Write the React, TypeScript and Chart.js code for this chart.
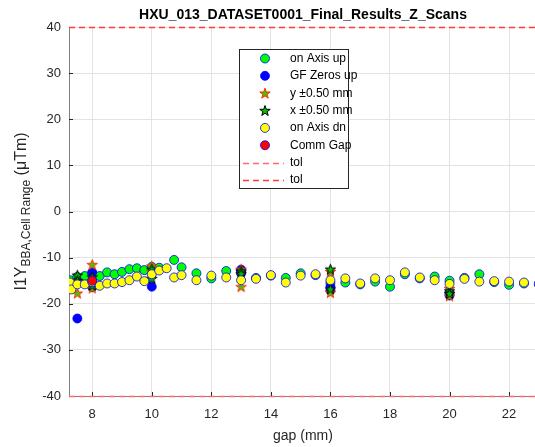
import React, { useEffect, useRef } from 'react';
import { Chart, registerables } from 'chart.js';
Chart.register(...registerables);

const titleText = 'HXU_013_DATASET0001_Final_Results_Z_Scans';
const xTitle = 'gap (mm)';
const yTitleMain = 'I1Y';
const yTitleSub = 'BBA,Cell Range';
const yTitleUnit = ' (\u03bcTm)';
const xTickValues = [8, 10, 12, 14, 16, 18, 20, 22];
const yTickValues = [-40, -30, -20, -10, 0, 10, 20, 30, 40];
const xMin = 7.22;
const xMax = 22.87;
const yMin = -40;
const yMax = 40;
const tolLow = -40;
const tolHigh = 40;

// on Axis up
const upGap = [7.25, 7.5, 7.75, 8, 8.25, 8.5, 8.75, 9, 9.25, 9.5, 9.75, 10, 10.25, 10.75, 11, 11.5, 12, 12.5, 13, 13.5, 14, 14.5, 15, 15.5, 16, 16.5, 17, 17.5, 18, 18.5, 19, 19.5, 20, 20.5, 21, 21.5, 22, 22.5, 23];
const upVal = [-14.9, -14.2, -14.0, -13.4, -14.0, -13.2, -13.6, -13.1, -12.5, -12.3, -12.7, -12.0, -12.2, -10.5, -12.1, -13.4, -14.5, -12.9, -13.0, -14.4, -13.9, -14.4, -13.4, -13.8, -15.5, -15.4, -15.8, -15.2, -16.3, -13.6, -14.5, -14.1, -15.0, -14.4, -13.6, -15.3, -15.9, -15.6, -15.8];
// GF Zeros up
const gfGap = [7.5, 8, 8, 10, 13, 13, 16, 16, 20, 20];
const gfVal = [-23.2, -13.2, -16.4, -16.3, -12.6, -13.4, -16.3, -17.1, -17.6, -18.2];
// y ±0.50 mm
const yStarGap = [7.5, 8, 8, 10, 10, 13, 13, 16, 16, 20, 20];
const yStarVal = [-17.7, -11.5, -16.6, -11.8, -13.0, -12.5, -16.3, -17.6, -13.0, -16.7, -18.3];
// x ±0.50 mm
const xStarGap = [7.5, 7.5, 8, 8, 10, 10, 13, 13, 16, 16, 20, 20];
const xStarVal = [-13.8, -15.0, -14.2, -16.0, -14.5, -12.5, -12.9, -13.5, -12.5, -16.8, -17.2, -17.8];
// on Axis dn
const dnGap = [7.25, 7.3, 7.5, 7.75, 8, 8.25, 8.5, 8.75, 9, 9.25, 9.5, 9.75, 10, 10.25, 10.5, 10.75, 11, 11.5, 12, 12.5, 13, 13.5, 14, 14.5, 15, 15.5, 16, 16.5, 17, 17.5, 18, 18.5, 19, 19.5, 20, 20.5, 21, 21.5, 22, 22.5, 23];
const dnVal = [-15.4, -16.9, -15.8, -15.8, -15.3, -16.1, -15.6, -15.6, -15.3, -14.9, -14.1, -15.1, -13.6, -12.8, -12.3, -14.3, -13.8, -14.9, -13.9, -14.3, -14.9, -14.6, -13.8, -15.4, -13.9, -13.6, -14.9, -14.5, -15.6, -14.5, -14.9, -13.2, -14.3, -14.9, -15.7, -14.6, -15.2, -15.1, -15.2, -15.4, -15.6];
// Comm Gap
const commGap = [8];
const commVal = [-15.0];

const FONT = '"Liberation Sans", Arial, Helvetica, sans-serif';

function drawStarPath(ctx: CanvasRenderingContext2D, cx: number, cy: number, r: number) {
  const ri = r * 0.4;
  ctx.beginPath();
  for (let i = 0; i < 10; i++) {
    const rad = i % 2 === 0 ? r : ri;
    const a = -Math.PI / 2 + (i * Math.PI) / 5;
    const px = cx + rad * Math.cos(a);
    const py = cy + rad * Math.sin(a);
    if (i === 0) ctx.moveTo(px, py);
    else ctx.lineTo(px, py);
  }
  ctx.closePath();
}

function makeStar(fill: string, stroke: string, r: number) {
  const c = document.createElement('canvas');
  const s = Math.ceil(2 * r + 4);
  c.width = s;
  c.height = s;
  const ctx = c.getContext('2d')!;
  drawStarPath(ctx, s / 2, s / 2 + 0.5, r);
  ctx.fillStyle = fill;
  ctx.fill();
  ctx.strokeStyle = stroke;
  ctx.lineWidth = 1;
  ctx.stroke();
  return c;
}

const toPts = (g: number[], v: number[]) => g.map((x, i) => ({ x, y: v[i] }));

export default function App() {
  const ref = useRef<HTMLCanvasElement>(null);
  useEffect(() => {
    const canvas = ref.current;
    if (!canvas) return;
    const yStarImg = makeStar('#4fc000', '#ff2a00', 5.5);
    const xStarImg = makeStar('#00c000', '#000000', 5.5);
    const tolLowColor = '#ff6a6a';
    const tolHighColor = '#ff3a3a';

    const legendItems = [
      { label: 'on Axis up', kind: 'circle', fill: '#00ff00', stroke: '#0000ff' },
      { label: 'GF Zeros up', kind: 'circle', fill: '#0000ff', stroke: '#0000ff' },
      { label: 'y \u00b10.50 mm', kind: 'star', fill: '#4fc000', stroke: '#ff2a00' },
      { label: 'x \u00b10.50 mm', kind: 'star', fill: '#00c000', stroke: '#000000' },
      { label: 'on Axis dn', kind: 'circle', fill: '#ffff00', stroke: '#0000ff' },
      { label: 'Comm Gap', kind: 'circle', fill: '#ff0000', stroke: '#0000ff' },
      { label: 'tol', kind: 'line', fill: '', stroke: tolLowColor },
      { label: 'tol', kind: 'line', fill: '', stroke: tolHighColor },
    ];

    const overlay = {
      id: 'overlay',
      afterDraw(chart: any) {
        const ctx: CanvasRenderingContext2D = chart.ctx;
        const { left, right, bottom } = chart.chartArea;
        const xs = chart.scales.x;
        const ys = chart.scales.y;
        ctx.save();
        // inner tick marks
        ctx.strokeStyle = '#262626';
        ctx.lineWidth = 1;
        xTickValues.forEach((v) => {
          const px = Math.round(xs.getPixelForValue(v)) + 0.5;
          ctx.beginPath();
          ctx.moveTo(px, bottom);
          ctx.lineTo(px, bottom - 4);
          ctx.stroke();
        });
        yTickValues.forEach((v) => {
          const py = Math.round(ys.getPixelForValue(v)) + 0.5;
          ctx.beginPath();
          ctx.moveTo(left, py);
          ctx.lineTo(left + 4, py);
          ctx.stroke();
        });
        // tolerance lines
        ctx.save();
        ctx.lineWidth = 1.3;
        ctx.setLineDash([6, 4]);
        ctx.strokeStyle = tolLowColor;
        const pl = Math.round(ys.getPixelForValue(tolLow)) + 0.5;
        ctx.beginPath();
        ctx.moveTo(left, pl);
        ctx.lineTo(right, pl);
        ctx.stroke();
        ctx.strokeStyle = tolHighColor;
        const ph = Math.round(ys.getPixelForValue(tolHigh)) + 0.5;
        ctx.beginPath();
        ctx.moveTo(left, ph);
        ctx.lineTo(right, ph);
        ctx.stroke();
        ctx.restore();
        // title
        ctx.fillStyle = '#000000';
        ctx.font = 'bold 14px ' + FONT;
        ctx.textAlign = 'center';
        ctx.textBaseline = 'middle';
        ctx.fillText(titleText, 303, 15);
        // x title
        ctx.font = '14px ' + FONT;
        ctx.fillStyle = '#262626';
        ctx.fillText(xTitle, 303, 436);
        // y title
        ctx.save();
        ctx.translate(26, 211.5);
        ctx.rotate(-Math.PI / 2);
        ctx.textAlign = 'left';
        ctx.textBaseline = 'alphabetic';
        ctx.font = '16px ' + FONT;
        const w1 = ctx.measureText(yTitleMain).width;
        const w3 = ctx.measureText(yTitleUnit).width;
        ctx.font = '12px ' + FONT;
        const w2 = ctx.measureText(yTitleSub).width;
        const x0 = -(w1 + w2 + w3) / 2;
        ctx.font = '16px ' + FONT;
        ctx.fillText(yTitleMain, x0, 0);
        ctx.font = '12px ' + FONT;
        ctx.fillText(yTitleSub, x0 + w1, 4);
        ctx.font = '16px ' + FONT;
        ctx.fillText(yTitleUnit, x0 + w1 + w2, 0);
        ctx.restore();
        // legend
        const bx = 239.5, by = 49.5, bw = 109, bh = 139;
        ctx.fillStyle = '#ffffff';
        ctx.fillRect(bx, by, bw, bh);
        ctx.strokeStyle = '#262626';
        ctx.lineWidth = 1;
        ctx.strokeRect(bx, by, bw, bh);
        ctx.font = '12px ' + FONT;
        ctx.textAlign = 'left';
        ctx.textBaseline = 'middle';
        legendItems.forEach((it, i) => {
          const cy = 58.5 + i * 17.35;
          const mx = 265;
          if (it.kind === 'circle') {
            ctx.beginPath();
            ctx.arc(mx, cy, 4.5, 0, Math.PI * 2);
            ctx.fillStyle = it.fill;
            ctx.fill();
            ctx.strokeStyle = it.stroke;
            ctx.lineWidth = 0.8;
            ctx.stroke();
          } else if (it.kind === 'star') {
            drawStarPath(ctx, mx, cy + 0.5, 5.5);
            ctx.fillStyle = it.fill;
            ctx.fill();
            ctx.strokeStyle = it.stroke;
            ctx.lineWidth = 1;
            ctx.stroke();
          } else {
            ctx.save();
            ctx.strokeStyle = it.stroke;
            ctx.lineWidth = 1.3;
            ctx.setLineDash([6, 4]);
            ctx.beginPath();
            ctx.moveTo(243, Math.round(cy) + 0.5);
            ctx.lineTo(284, Math.round(cy) + 0.5);
            ctx.stroke();
            ctx.restore();
          }
          ctx.fillStyle = '#000000';
          ctx.fillText(it.label, 290, cy);
        });
        ctx.restore();
      },
    };

    const circle = (fill: string, stroke: string) => ({
      pointStyle: 'circle',
      pointRadius: 4.5,
      backgroundColor: fill,
      borderColor: stroke,
      pointBorderWidth: 0.8,
      borderWidth: 0.8,
    });

    const datasets: any[] = [
      { label: 'on Axis up', data: toPts(upGap, upVal), ...circle('#00ff00', '#0000ff') },
      { label: 'GF Zeros up', data: toPts(gfGap, gfVal), ...circle('#0000ff', '#0000ff') },
      { label: 'y \u00b10.50 mm', data: toPts(yStarGap, yStarVal), pointStyle: yStarImg, backgroundColor: '#4fc000', borderColor: '#ff2a00' },
      { label: 'x \u00b10.50 mm', data: toPts(xStarGap, xStarVal), pointStyle: xStarImg, backgroundColor: '#00c000', borderColor: '#000000' },
      { label: 'on Axis dn', data: toPts(dnGap, dnVal), ...circle('#ffff00', '#0000ff') },
      { label: 'Comm Gap', data: toPts(commGap, commVal), ...circle('#ff0000', '#0000ff') },
    ];
    const n = datasets.length;
    datasets.forEach((d, i) => { d.order = n - i; });

    const chart = new Chart(canvas, {
      type: 'scatter',
      data: { datasets },
      options: {
        animation: false,
        responsive: false,
        events: [],
        layout: { autoPadding: false, padding: { top: 27, left: 0, right: 0, bottom: 0 } },
        plugins: { legend: { display: false }, tooltip: { enabled: false }, title: { display: false } },
        scales: {
          x: {
            type: 'linear',
            min: xMin,
            max: xMax,
            afterBuildTicks: (s: any) => { s.ticks = xTickValues.map((v) => ({ value: v })); },
            afterFit: (s: any) => { s.height = 51; },
            ticks: { color: '#262626', font: { size: 13, family: FONT }, padding: 11, maxRotation: 0, autoSkip: false, callback: (v: any) => String(v) },
            grid: { color: '#e3e3e3', drawTicks: false, lineWidth: 1 },
            border: { color: '#808080', width: 1 },
          },
          y: {
            type: 'linear',
            min: yMin,
            max: yMax,
            afterBuildTicks: (s: any) => { s.ticks = yTickValues.map((v) => ({ value: v })); },
            afterFit: (s: any) => { s.width = 69; },
            ticks: { color: '#262626', font: { size: 13, family: FONT }, padding: 8, autoSkip: false, callback: (v: any) => String(v) },
            grid: { color: '#e3e3e3', drawTicks: false, lineWidth: 1 },
            border: { color: '#808080', width: 1 },
          },
        },
      },
      plugins: [overlay],
    } as any);
    return () => chart.destroy();
  }, []);

  return (
    <div style={{ position: 'absolute', left: 0, top: 0, width: 535, height: 447, background: '#ffffff' }}>
      <canvas ref={ref} width={535} height={447} style={{ display: 'block' }} />
    </div>
  );
}
